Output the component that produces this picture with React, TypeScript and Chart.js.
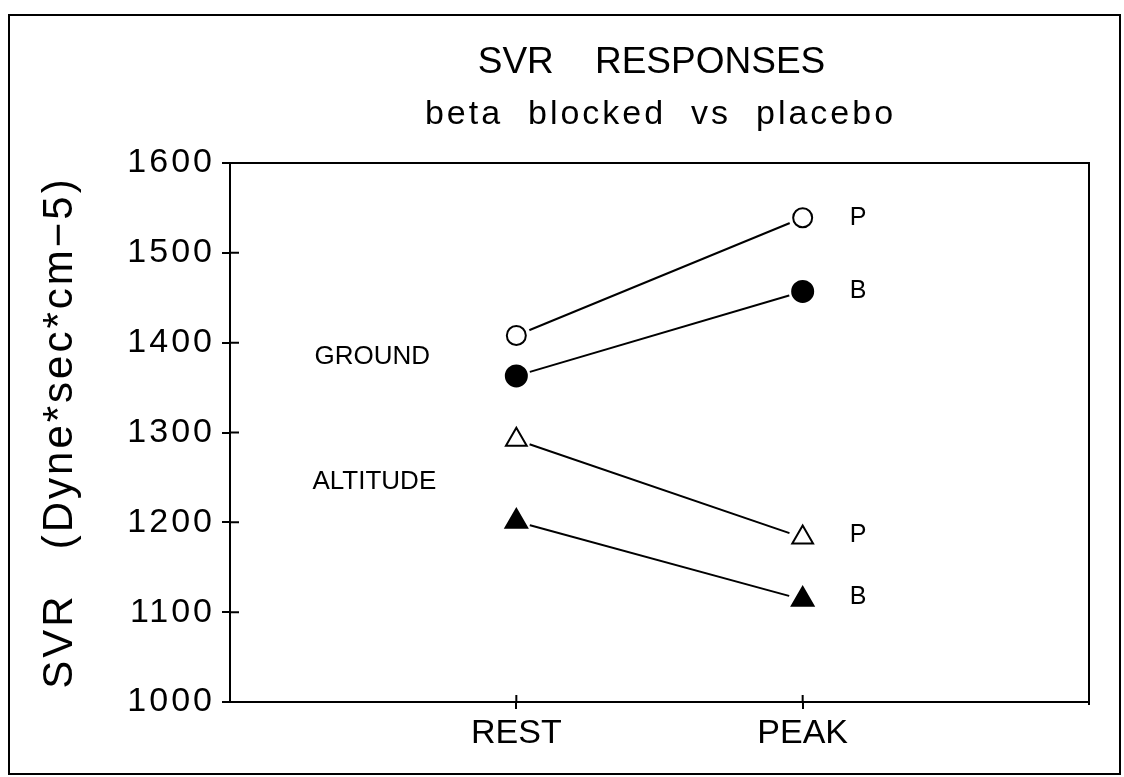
import { useEffect, useRef } from "react";
import { Chart, registerables } from "chart.js";

Chart.register(...registerables);

// ---- data ----
const categories = ["REST", "PEAK"];
const groundPlacebo = [1408, 1539];
const groundBeta = [1363, 1457];
const altitudePlacebo = [1292, 1183];
const altitudeBeta = [1201, 1114];
const endLabels = ["P", "B", "P", "B"];
const yTickValues = [1000, 1100, 1200, 1300, 1400, 1500, 1600];
const titleText = "SVR    RESPONSES";
const subtitleText = "beta  blocked  vs  placebo";
const yAxisTitle = "SVR   (Dyne*sec*cm\u22125)";
const groupNames = ["GROUND", "ALTITUDE"];
const groupNameX = [0.295, 0.288];
const groupNameY = [1384, 1245];

const FONT = "'Liberation Sans', Arial, Helvetica, sans-serif";

const seriesValues = [groundPlacebo, groundBeta, altitudePlacebo, altitudeBeta];
const seriesStyles = [
  { pointStyle: "circle", radius: 9.5, fill: "#ffffff" },
  { pointStyle: "circle", radius: 10.5, fill: "#000000" },
  { pointStyle: "triangle", radius: 12, fill: "#ffffff" },
  { pointStyle: "triangle", radius: 12.5, fill: "#000000" },
];

const toPoints = (vals: number[]) => vals.map((v, i) => ({ x: i + 1, y: v }));

const decorPlugin = {
  id: "decor",
  beforeDraw(chart: any) {
    chart.ctx.letterSpacing = "3px";
  },
  beforeDatasetsDraw(chart: any) {
    const ctx = chart.ctx;
    ctx.letterSpacing = "0px";
    const ca = chart.chartArea;
    const ys = chart.scales.y;
    const xs = chart.scales.x;
    ctx.save();
    ctx.strokeStyle = "#000";
    ctx.lineWidth = 2;
    ctx.beginPath();
    // top & right of plot box
    ctx.moveTo(ca.left, ca.top);
    ctx.lineTo(ca.right, ca.top);
    ctx.lineTo(ca.right, ca.bottom + 3);
    // inner tick marks on y axis
    yTickValues.forEach((v) => {
      if (v === 1000 || v === 1600) return;
      const py = ys.getPixelForValue(v);
      ctx.moveTo(ca.left, py);
      ctx.lineTo(ca.left + 9, py);
    });
    // inner tick marks on x axis
    categories.forEach((_, i) => {
      const px = xs.getPixelForValue(i + 1);
      ctx.moveTo(px, ca.bottom);
      ctx.lineTo(px, ca.bottom - 7);
    });
    ctx.stroke();
    ctx.restore();
  },
  afterDatasetsDraw(chart: any) {
    chart.ctx.letterSpacing = "0px";
  },
  afterDraw(chart: any) {
    const ctx = chart.ctx;
    const ca = chart.chartArea;
    const xs = chart.scales.x;
    const ys = chart.scales.y;
    const cx = (ca.left + ca.right) / 2;
    ctx.save();
    ctx.fillStyle = "#000";
    ctx.textBaseline = "middle";
    ctx.textAlign = "center";
    ctx.letterSpacing = "0px";
    ctx.font = `37px ${FONT}`;
    ctx.fillText(titleText, cx - 8, ca.top - 100);
    ctx.letterSpacing = "3px";
    ctx.font = `34px ${FONT}`;
    ctx.fillText(subtitleText, cx + 1, ca.top - 48);
    ctx.letterSpacing = "0px";
    ctx.textAlign = "left";
    ctx.font = `26px ${FONT}`;
    groupNames.forEach((name, i) => {
      ctx.fillText(name, xs.getPixelForValue(groupNameX[i]), ys.getPixelForValue(groupNameY[i]));
    });
    ctx.font = `25px ${FONT}`;
    endLabels.forEach((lbl, i) => {
      const meta = chart.getDatasetMeta(5 + i);
      const el = meta.data[meta.data.length - 1];
      if (!el) return;
      ctx.fillText(lbl, el.x + 47, el.y - (i >= 2 ? 2 : 0));
    });
    ctx.restore();
    ctx.letterSpacing = "0px";
  },
};

export default function App() {
  const canvasRef = useRef<HTMLCanvasElement | null>(null);

  useEffect(() => {
    if (!canvasRef.current) return;
    const lineSets = seriesValues.map((vals) => ({
      data: toPoints(vals),
      borderColor: "#000",
      borderWidth: 2,
      pointRadius: 0,
      showLine: true,
      fill: false,
      order: 3,
    }));
    const maskSet = {
      data: seriesValues.flatMap((vals) => toPoints(vals)),
      showLine: false,
      pointRadius: 14,
      pointBackgroundColor: "#ffffff",
      pointBorderWidth: 0,
      pointBorderColor: "#ffffff",
      order: 2,
    };
    const markerSets = seriesValues.map((vals, i) => ({
      data: toPoints(vals),
      showLine: false,
      pointStyle: seriesStyles[i].pointStyle,
      pointRadius: seriesStyles[i].radius,
      pointBackgroundColor: seriesStyles[i].fill,
      pointBorderColor: "#000",
      pointBorderWidth: 2,
      order: 1,
    }));

    const chart = new Chart(canvasRef.current, {
      type: "line",
      data: { datasets: [...lineSets, maskSet, ...markerSets] as any },
      options: {
        animation: false,
        responsive: false,
        events: [],
        layout: { padding: { left: 0, top: 163, right: 35, bottom: 0 } },
        plugins: { legend: { display: false }, tooltip: { enabled: false }, title: { display: false } },
        scales: {
          x: {
            type: "linear",
            min: 0,
            max: 3,
            afterBuildTicks: (scale: any) => {
              scale.ticks = categories.map((_, i) => ({ value: i + 1 }));
            },
            afterFit: (scale: any) => {
              scale.height = 75;
            },
            ticks: {
              z: 1,
              color: "#000",
              font: { family: FONT, size: 34 },
              padding: 4,
              maxRotation: 0,
              autoSkip: false,
              callback: (v: any) => categories[Number(v) - 1] ?? "",
            },
            grid: { drawOnChartArea: false, color: "#000", lineWidth: 2, tickLength: 7 },
            border: { display: true, color: "#000", width: 2 },
          },
          y: {
            type: "linear",
            min: 1000,
            max: 1600,
            afterBuildTicks: (scale: any) => {
              scale.ticks = yTickValues.map((v) => ({ value: v }));
            },
            afterFit: (scale: any) => {
              scale.width = 230;
            },
            ticks: {
              color: "#000",
              font: { family: FONT, size: 34 },
              padding: 7,
              callback: (v: any) => String(v),
            },
            grid: { drawOnChartArea: false, color: "#000", lineWidth: 2, tickLength: 8 },
            border: { display: true, color: "#000", width: 2 },
            title: {
              display: true,
              text: yAxisTitle,
              color: "#000",
              font: { family: FONT, size: 42 },
              padding: { top: 35, bottom: 0 },
            },
          },
        },
      },
      plugins: [decorPlugin],
    } as any);
    return () => chart.destroy();
  }, []);

  return (
    <div style={{ position: "absolute", left: 0, top: 0, width: 1124, height: 777, background: "#fff" }}>
      <div
        style={{
          position: "absolute",
          left: 8,
          top: 14,
          width: 1113,
          height: 761,
          border: "2px solid #000",
          boxSizing: "border-box",
        }}
      />
      <canvas ref={canvasRef} width={1124} height={777} style={{ position: "absolute", left: 0, top: 0, display: "block" }} />
    </div>
  );
}
